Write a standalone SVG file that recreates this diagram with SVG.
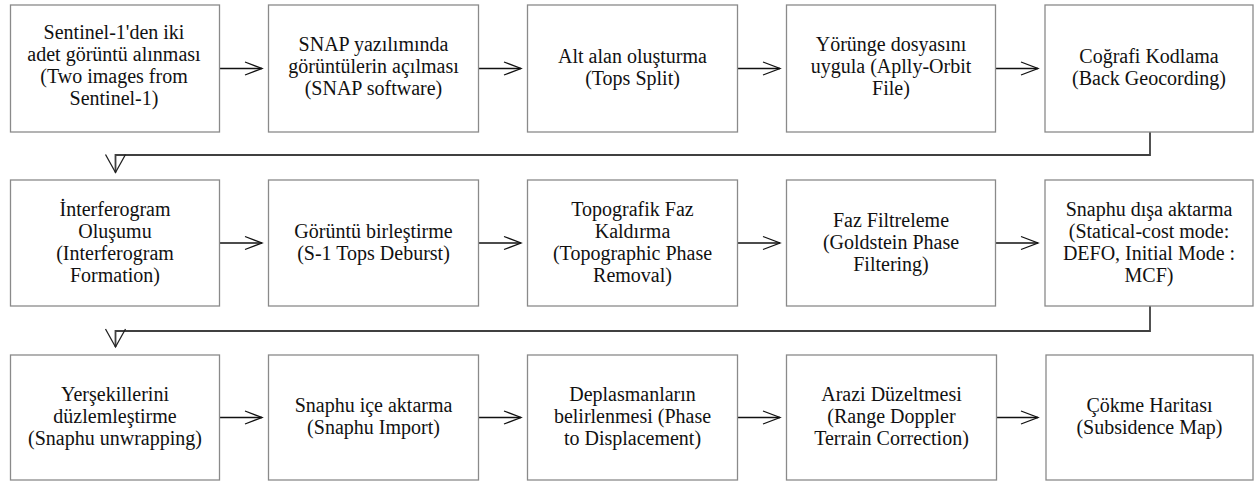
<svg xmlns="http://www.w3.org/2000/svg" width="1255" height="481" viewBox="0 0 1255 481">
<style>
.box{fill:#fff;stroke:#8a8a8a;stroke-width:1.3}
.t{font-family:"Liberation Serif","Times New Roman","DejaVu Serif",serif;font-size:20px;fill:#111;text-anchor:middle}
.h{fill:none;stroke:#111;stroke-width:1.3}
.d{fill:none;stroke:#404040;stroke-width:1.8}
</style>
<defs>
<marker id="ah" markerUnits="userSpaceOnUse" markerWidth="20" markerHeight="16" viewBox="0 0 20 16" refX="18" refY="8" orient="auto">
<path d="M1,1.5 L18,8 L1,14.5" fill="none" stroke="#111" stroke-width="1.3"/>
</marker>
<marker id="av" markerUnits="userSpaceOnUse" markerWidth="21" markerHeight="24" viewBox="0 0 21 24" refX="19" refY="12" orient="auto">
<path d="M1,2 L19,12 L1,22" fill="none" stroke="#222" stroke-width="1.3"/>
</marker>
</defs>
<rect width="1255" height="481" fill="#fff"/>
<g id="connectors">
<path class="h" d="M220,68.5 H262" marker-end="url(#ah)"/>
<path class="h" d="M479,68.5 H521" marker-end="url(#ah)"/>
<path class="h" d="M738,68.5 H780" marker-end="url(#ah)"/>
<path class="h" d="M996,68.5 H1038" marker-end="url(#ah)"/>
<path class="d" d="M1150,132 V155 H115.5 V172.5" marker-end="url(#av)"/>
<path class="h" d="M220,243 H262" marker-end="url(#ah)"/>
<path class="h" d="M479,243 H521" marker-end="url(#ah)"/>
<path class="h" d="M738,243 H780" marker-end="url(#ah)"/>
<path class="h" d="M996,243 H1038" marker-end="url(#ah)"/>
<path class="d" d="M1150,306 V331 H115.5 V347" marker-end="url(#av)"/>
<path class="h" d="M220,417.5 H262" marker-end="url(#ah)"/>
<path class="h" d="M479,417.5 H521" marker-end="url(#ah)"/>
<path class="h" d="M738,417.5 H780" marker-end="url(#ah)"/>
<path class="h" d="M996,417.5 H1038" marker-end="url(#ah)"/>
</g>
<g id="n1"><rect class="box" x="10.5" y="5" width="209" height="127"/>
<text class="t"><tspan x="114" y="38.5">Sentinel-1'den iki</tspan><tspan x="114" y="60.5">adet görüntü alınması</tspan><tspan x="114" y="82.5">(Two images from</tspan><tspan x="114" y="104.5">Sentinel-1)</tspan></text></g>
<g id="n2"><rect class="box" x="268.5" y="5" width="210" height="127"/>
<text class="t"><tspan x="373.5" y="50.5">SNAP yazılımında</tspan><tspan x="373.5" y="72.5">görüntülerin açılması</tspan><tspan x="373.5" y="94.5">(SNAP software)</tspan></text></g>
<g id="n3"><rect class="box" x="527.5" y="5" width="210" height="127"/>
<text class="t"><tspan x="632.5" y="63">Alt alan oluşturma</tspan><tspan x="632.5" y="85">(Tops Split)</tspan></text></g>
<g id="n4"><rect class="box" x="786.5" y="5" width="209" height="127"/>
<text class="t"><tspan x="891" y="50.5">Yörünge dosyasını</tspan><tspan x="891" y="72.5">uygula (Aplly-Orbit</tspan><tspan x="891" y="94.5">File)</tspan></text></g>
<g id="n5"><rect class="box" x="1045" y="5" width="208" height="127"/>
<text class="t"><tspan x="1149" y="63">Coğrafi Kodlama</tspan><tspan x="1149" y="85">(Back Geocording)</tspan></text></g>

<g id="n6"><rect class="box" x="10.5" y="180" width="209" height="126"/>
<text class="t"><tspan x="115" y="215.5">İnterferogram</tspan><tspan x="115" y="237.5">Oluşumu</tspan><tspan x="115" y="259.5">(Interferogram</tspan><tspan x="115" y="281.5">Formation)</tspan></text></g>
<g id="n7"><rect class="box" x="268.5" y="180" width="210" height="126"/>
<text class="t"><tspan x="373.5" y="237.5">Görüntü birleştirme</tspan><tspan x="373.5" y="259.5">(S-1 Tops Deburst)</tspan></text></g>
<g id="n8"><rect class="box" x="527.5" y="180" width="210" height="126"/>
<text class="t"><tspan x="632.5" y="215.5">Topografik Faz</tspan><tspan x="632.5" y="237.5">Kaldırma</tspan><tspan x="632.5" y="259.5">(Topographic Phase</tspan><tspan x="632.5" y="281.5">Removal)</tspan></text></g>
<g id="n9"><rect class="box" x="786.5" y="180" width="209" height="126"/>
<text class="t"><tspan x="891" y="226.5">Faz Filtreleme</tspan><tspan x="891" y="248.5">(Goldstein Phase</tspan><tspan x="891" y="270.5">Filtering)</tspan></text></g>
<g id="n10"><rect class="box" x="1045" y="180" width="208" height="126"/>
<text class="t"><tspan x="1149" y="215.5">Snaphu dışa aktarma</tspan><tspan x="1149" y="237.5">(Statical-cost mode:</tspan><tspan x="1149" y="259.5">DEFO, Initial Mode :</tspan><tspan x="1149" y="281.5">MCF)</tspan></text></g>

<g id="n11"><rect class="box" x="10.5" y="355" width="209" height="125"/>
<text class="t"><tspan x="115" y="401">Yerşekillerini</tspan><tspan x="115" y="423">düzlemleştirme</tspan><tspan x="115" y="445">(Snaphu unwrapping)</tspan></text></g>
<g id="n12"><rect class="box" x="268.5" y="355" width="210" height="125"/>
<text class="t"><tspan x="373.5" y="412">Snaphu içe aktarma</tspan><tspan x="373.5" y="434">(Snaphu Import)</tspan></text></g>
<g id="n13"><rect class="box" x="527.5" y="355" width="210" height="125"/>
<text class="t"><tspan x="632.5" y="401">Deplasmanların</tspan><tspan x="632.5" y="423">belirlenmesi (Phase</tspan><tspan x="632.5" y="445">to Displacement)</tspan></text></g>
<g id="n14"><rect class="box" x="786.5" y="355" width="210" height="125"/>
<text class="t"><tspan x="891.5" y="401">Arazi Düzeltmesi</tspan><tspan x="891.5" y="423">(Range Doppler</tspan><tspan x="891.5" y="445">Terrain Correction)</tspan></text></g>
<g id="n15"><rect class="box" x="1046" y="355" width="207" height="125"/>
<text class="t"><tspan x="1149.5" y="412">Çökme Haritası</tspan><tspan x="1149.5" y="434">(Subsidence Map)</tspan></text></g>
</svg>
